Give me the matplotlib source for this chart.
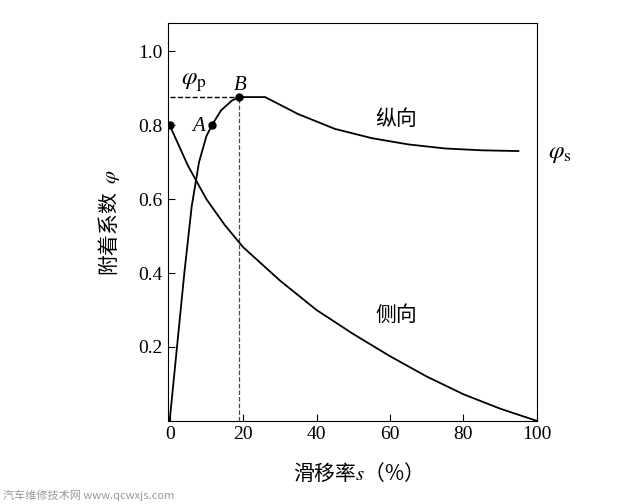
import matplotlib
matplotlib.use("Agg")
import matplotlib.pyplot as plt

lon_x = [0, 2, 4, 6, 8, 10, 11.5, 14, 17, 19, 26, 35, 45, 55, 65, 75, 85, 95]
lon_y = [0.0, 0.2, 0.4, 0.58, 0.7, 0.77, 0.8, 0.84, 0.867, 0.876, 0.876, 0.83, 0.79, 0.765, 0.748, 0.737, 0.732, 0.73]
lat_x = [0, 5, 10, 15, 20, 30, 40, 50, 60, 70, 80, 90, 100]
lat_y = [0.8, 0.69, 0.6, 0.53, 0.47, 0.38, 0.30, 0.235, 0.175, 0.12, 0.072, 0.033, 0.0]
pts_x = [0, 11.5, 19]
pts_y = [0.8, 0.8, 0.876]
xticks = [0, 20, 40, 60, 80, 100]
yticks = [0.2, 0.4, 0.6, 0.8, 1.0]

serif = ['Liberation Serif', 'DejaVu Serif']
cjk = ['Noto Sans CJK SC', 'DejaVu Sans']
plt.rcParams['font.family'] = serif
plt.rcParams['mathtext.fontset'] = 'stix'

fig = plt.figure(figsize=(6.17, 5.04), dpi=100)
ax = fig.add_axes([0.272, 0.165, 0.598, 0.789])
ax.plot(lon_x, lon_y, color='black', lw=1.3)
ax.plot(lat_x, lat_y, color='black', lw=1.3)
ax.plot(pts_x, pts_y, 'o', color='black', ms=5)
ax.plot([0, 19], [0.876, 0.876], '--', color='black', lw=1)
ax.plot([19, 19], [0, 0.876], '--', color='black', lw=0.9, alpha=0.7)
ax.set_xlim(-0.5, 100)
ax.set_ylim(0, 1.076)
ax.set_xticks(xticks)
ax.set_xticklabels([str(t) for t in xticks])
ax.set_yticks(yticks)
ax.set_yticklabels([f"{t:.1f}" for t in yticks])
ax.tick_params(direction='in', labelsize=14, length=5)
ax.text(3, 0.91, r'$\varphi_{\rm p}$', fontsize=18)
ax.text(6, 0.785, 'A', fontsize=15, style='italic')
ax.text(17.5, 0.895, 'B', fontsize=15, style='italic')
ax.text(56, 0.8, '纵向', fontsize=15, family=cjk)
ax.text(56, 0.27, '侧向', fontsize=15, family=cjk)
ax.text(103, 0.71, r'$\varphi_{\rm s}$', fontsize=18, clip_on=False)
ax.set_xlabel('滑移率$s$（%）', family=cjk, fontsize=15, labelpad=14)
ax.set_ylabel(r'附着系数  $\varphi$', family=cjk, fontsize=15, labelpad=12)
fig.text(0.005, 0.01, '汽车维修技术网 www.qcwxjs.com', fontsize=8, color='#999999', family=cjk)
fig.savefig('out.png', dpi=100)
